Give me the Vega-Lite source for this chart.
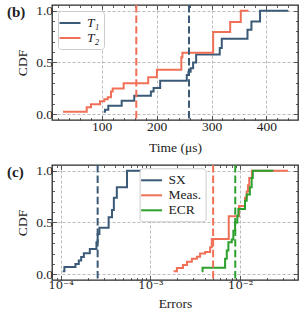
{
  "$schema": "https://vega.github.io/schema/vega-lite/v6.json",
  "padding": {"left": 6, "top": 3, "right": 5, "bottom": 3},
  "spacing": 8,
  "resolve": {"scale": {"color": "independent"}, "legend": {"color": "independent"}},
  "datasets": {
    "timing": [
      {"series": "T₁", "time": 103.6, "cdf": 0.025},
      {"series": "T₁", "time": 106, "cdf": 0.045},
      {"series": "T₁", "time": 112, "cdf": 0.083},
      {"series": "T₁", "time": 136.4, "cdf": 0.13},
      {"series": "T₁", "time": 159.3, "cdf": 0.18},
      {"series": "T₁", "time": 189.6, "cdf": 0.22},
      {"series": "T₁", "time": 194.5, "cdf": 0.255},
      {"series": "T₁", "time": 206.5, "cdf": 0.325},
      {"series": "T₁", "time": 255, "cdf": 0.38},
      {"series": "T₁", "time": 258, "cdf": 0.41},
      {"series": "T₁", "time": 262, "cdf": 0.445},
      {"series": "T₁", "time": 266.5, "cdf": 0.5},
      {"series": "T₁", "time": 272, "cdf": 0.577},
      {"series": "T₁", "time": 315, "cdf": 0.64},
      {"series": "T₁", "time": 318.7, "cdf": 0.73},
      {"series": "T₁", "time": 365.5, "cdf": 0.816},
      {"series": "T₁", "time": 372.7, "cdf": 0.896},
      {"series": "T₁", "time": 388.4, "cdf": 1.0},
      {"series": "T₁", "time": 440, "cdf": 1.0},
      {"series": "T₂", "time": 29.6, "cdf": 0.025},
      {"series": "T₂", "time": 72.7, "cdf": 0.068},
      {"series": "T₂", "time": 80.5, "cdf": 0.097},
      {"series": "T₂", "time": 96.9, "cdf": 0.126},
      {"series": "T₂", "time": 104.7, "cdf": 0.145},
      {"series": "T₂", "time": 111, "cdf": 0.165},
      {"series": "T₂", "time": 117, "cdf": 0.22},
      {"series": "T₂", "time": 120, "cdf": 0.25},
      {"series": "T₂", "time": 140, "cdf": 0.3},
      {"series": "T₂", "time": 184.7, "cdf": 0.358},
      {"series": "T₂", "time": 200.5, "cdf": 0.43},
      {"series": "T₂", "time": 245, "cdf": 0.55},
      {"series": "T₂", "time": 247, "cdf": 0.595},
      {"series": "T₂", "time": 303, "cdf": 0.795},
      {"series": "T₂", "time": 334, "cdf": 0.89},
      {"series": "T₂", "time": 353.3, "cdf": 1.0},
      {"series": "T₂", "time": 367.3, "cdf": 1.0}
    ],
    "timingLines": [
      {"series": "T₂", "time": 163},
      {"series": "T₁", "time": 259}
    ],
    "errors": [
      {"series": "SX", "error": 0.0001055, "cdf": 0.03},
      {"series": "SX", "error": 0.00011, "cdf": 0.07},
      {"series": "SX", "error": 0.000146, "cdf": 0.1},
      {"series": "SX", "error": 0.000159, "cdf": 0.134},
      {"series": "SX", "error": 0.000169, "cdf": 0.166},
      {"series": "SX", "error": 0.000181, "cdf": 0.204},
      {"series": "SX", "error": 0.000211, "cdf": 0.245},
      {"series": "SX", "error": 0.00025, "cdf": 0.31},
      {"series": "SX", "error": 0.000258, "cdf": 0.39},
      {"series": "SX", "error": 0.00027, "cdf": 0.45},
      {"series": "SX", "error": 0.000342, "cdf": 0.55},
      {"series": "SX", "error": 0.000373, "cdf": 0.62},
      {"series": "SX", "error": 0.000391, "cdf": 0.74},
      {"series": "SX", "error": 0.000422, "cdf": 0.84},
      {"series": "SX", "error": 0.000548, "cdf": 1.0},
      {"series": "SX", "error": 0.000875, "cdf": 1.0},
      {"series": "Meas.", "error": 0.00181, "cdf": 0.03},
      {"series": "Meas.", "error": 0.00197, "cdf": 0.06},
      {"series": "Meas.", "error": 0.0023, "cdf": 0.09},
      {"series": "Meas.", "error": 0.00255, "cdf": 0.12},
      {"series": "Meas.", "error": 0.00289, "cdf": 0.15},
      {"series": "Meas.", "error": 0.00329, "cdf": 0.17},
      {"series": "Meas.", "error": 0.00357, "cdf": 0.2},
      {"series": "Meas.", "error": 0.00406, "cdf": 0.215},
      {"series": "Meas.", "error": 0.00462, "cdf": 0.26},
      {"series": "Meas.", "error": 0.00482, "cdf": 0.34},
      {"series": "Meas.", "error": 0.00745, "cdf": 0.56},
      {"series": "Meas.", "error": 0.0097, "cdf": 0.66},
      {"series": "Meas.", "error": 0.0113, "cdf": 0.74},
      {"series": "Meas.", "error": 0.0118, "cdf": 0.8},
      {"series": "Meas.", "error": 0.0122, "cdf": 0.86},
      {"series": "Meas.", "error": 0.0126, "cdf": 0.93},
      {"series": "Meas.", "error": 0.0135, "cdf": 1.0},
      {"series": "Meas.", "error": 0.034, "cdf": 1.0},
      {"series": "ECR", "error": 0.00373, "cdf": 0.03},
      {"series": "ECR", "error": 0.0038, "cdf": 0.064},
      {"series": "ECR", "error": 0.00678, "cdf": 0.15},
      {"series": "ECR", "error": 0.00708, "cdf": 0.23},
      {"series": "ECR", "error": 0.00738, "cdf": 0.31},
      {"series": "ECR", "error": 0.00805, "cdf": 0.335},
      {"series": "ECR", "error": 0.00838, "cdf": 0.42},
      {"series": "ECR", "error": 0.00876, "cdf": 0.5},
      {"series": "ECR", "error": 0.00929, "cdf": 0.566},
      {"series": "ECR", "error": 0.00953, "cdf": 0.63},
      {"series": "ECR", "error": 0.0113, "cdf": 0.71},
      {"series": "ECR", "error": 0.0118, "cdf": 0.77},
      {"series": "ECR", "error": 0.0128, "cdf": 0.84},
      {"series": "ECR", "error": 0.0134, "cdf": 0.93},
      {"series": "ECR", "error": 0.0138, "cdf": 1.0},
      {"series": "ECR", "error": 0.0233, "cdf": 1.0}
    ],
    "errorLines": [
      {"series": "SX", "error": 0.000258},
      {"series": "Meas.", "error": 0.00499},
      {"series": "ECR", "error": 0.0088}
    ]
  },
  "vconcat": [
    {
      "width": 246,
      "height": 115,
      "title": {"text": "(b)", "orient": "top", "anchor": "start", "frame": "group", "dx": -45, "dy": 16, "offset": 0, "fontSize": 15, "fontWeight": "bold", "font": "Liberation Serif", "color": "#222"},
      "resolve": {"axis": {"x": "independent", "y": "independent"}},
      "layer": [
        {
          "data": {"name": "timing"},
          "mark": {"type": "line", "interpolate": "step-after", "strokeWidth": 2},
          "encoding": {
            "x": {"field": "time", "type": "quantitative", "scale": {"domain": [9.5, 457.5], "zero": false, "nice": false},
              "axis": {"orient": "bottom", "title": "Time (μs)", "values": [20,40,60,80,100,120,140,160,180,200,220,240,260,280,300,320,340,360,380,400,420,440],
                "labelExpr": "datum.value % 100 === 0 ? datum.label : ''",
                "tickSize": {"condition": {"test": "datum.value % 100 === 0", "value": -4.5}, "value": -2.5},
                "gridOpacity": {"condition": {"test": "datum.value % 100 === 0", "value": 1}, "value": 0},
                "labelPadding": 4, "titlePadding": 5}},
            "y": {"field": "cdf", "type": "quantitative", "scale": {"domain": [-0.055, 1.055], "zero": false, "nice": false},
              "axis": {"orient": "left", "title": "CDF", "values": [0,0.1,0.2,0.3,0.4,0.5,0.6,0.7,0.8,0.9,1],
                "labelExpr": "abs(datum.value*2 - round(datum.value*2)) < 0.000001 ? format(datum.value, '.1f') : ''",
                "tickSize": {"condition": {"test": "abs(datum.value*2 - round(datum.value*2)) < 0.000001", "value": -4.5}, "value": -2.5},
                "gridOpacity": {"condition": {"test": "abs(datum.value*2 - round(datum.value*2)) < 0.000001", "value": 1}, "value": 0},
                "labelPadding": 4, "titlePadding": 6}},
            "color": {"field": "series", "type": "nominal", "scale": {"domain": ["T₁", "T₂"], "range": ["#3b5a78", "#f07057"]},
              "legend": {"orient": "top-left", "offset": 6, "title": null, "symbolType": "M-1.5,0H1.5", "symbolSize": 196, "symbolStrokeWidth": 2,
                "labelFont": "Liberation Serif", "labelFontSize": 13.5, "labelFontStyle": "italic", "labelColor": "#222", "labelOffset": 9,
                "fillColor": "white", "strokeColor": "#cccccc", "cornerRadius": 3, "padding": 4, "rowPadding": 0}}
          }
        },
        {
          "data": {"name": "timingLines"},
          "mark": {"type": "rule", "strokeWidth": 2, "strokeDash": [7.4, 3.2]},
          "encoding": {
            "x": {"field": "time", "type": "quantitative", "scale": {"domain": [9.5, 457.5], "zero": false, "nice": false}, "axis": null},
            "color": {"field": "series", "type": "nominal", "scale": {"domain": ["T₁", "T₂"], "range": ["#3b5a78", "#f07057"]}, "legend": null}
          }
        },
        {
          "data": {"name": "timing"},
          "mark": {"type": "line", "strokeOpacity": 0},
          "encoding": {
            "x": {"field": "time", "type": "quantitative", "scale": {"domain": [9.5, 457.5], "zero": false, "nice": false},
              "axis": {"orient": "top", "title": null, "labels": false, "grid": false, "values": [20,40,60,80,100,120,140,160,180,200,220,240,260,280,300,320,340,360,380,400,420,440],
                "tickSize": {"condition": {"test": "datum.value % 100 === 0", "value": -4.5}, "value": -2.5}}},
            "y": {"field": "cdf", "type": "quantitative", "scale": {"domain": [-0.055, 1.055], "zero": false, "nice": false},
              "axis": {"orient": "right", "title": null, "labels": false, "grid": false, "values": [0,0.1,0.2,0.3,0.4,0.5,0.6,0.7,0.8,0.9,1],
                "tickSize": {"condition": {"test": "abs(datum.value*2 - round(datum.value*2)) < 0.000001", "value": -4.5}, "value": -2.5}}},
            "detail": {"field": "series"}
          }
        }
      ]
    },
    {
      "width": 246,
      "height": 115,
      "title": {"text": "(c)", "orient": "top", "anchor": "start", "frame": "group", "dx": -45, "dy": 16, "offset": 0, "fontSize": 15, "fontWeight": "bold", "font": "Liberation Serif", "color": "#222"},
      "resolve": {"axis": {"x": "independent", "y": "independent"}},
      "layer": [
        {
          "data": {"name": "errors"},
          "mark": {"type": "line", "interpolate": "step-after", "strokeWidth": 2},
          "encoding": {
            "x": {"field": "error", "type": "quantitative", "scale": {"type": "log", "domain": [0.00008, 0.044], "nice": false},
              "axis": {"orient": "bottom", "title": "Errors", "values": [0.00009,0.0001,0.0002,0.0003,0.0004,0.0005,0.0006,0.0007,0.0008,0.0009,0.001,0.002,0.003,0.004,0.005,0.006,0.007,0.008,0.009,0.01,0.02,0.03,0.04],
                "labelExpr": "abs(log(datum.value)/LN10 - round(log(datum.value)/LN10)) < 0.000001 ? (datum.value < 0.0005 ? '10⁻⁴' : datum.value < 0.005 ? '10⁻³' : '10⁻²') : ''",
                "labelFont": "DejaVu Serif", "labelFontSize": 11.5,
                "tickSize": {"condition": {"test": "abs(log(datum.value)/LN10 - round(log(datum.value)/LN10)) < 0.000001", "value": -4.5}, "value": -2.5},
                "gridOpacity": {"condition": {"test": "abs(log(datum.value)/LN10 - round(log(datum.value)/LN10)) < 0.000001", "value": 1}, "value": 0},
                "labelPadding": 4, "titlePadding": 3}},
            "y": {"field": "cdf", "type": "quantitative", "scale": {"domain": [-0.055, 1.055], "zero": false, "nice": false},
              "axis": {"orient": "left", "title": "CDF", "values": [0,0.1,0.2,0.3,0.4,0.5,0.6,0.7,0.8,0.9,1],
                "labelExpr": "abs(datum.value*2 - round(datum.value*2)) < 0.000001 ? format(datum.value, '.1f') : ''",
                "tickSize": {"condition": {"test": "abs(datum.value*2 - round(datum.value*2)) < 0.000001", "value": -4.5}, "value": -2.5},
                "gridOpacity": {"condition": {"test": "abs(datum.value*2 - round(datum.value*2)) < 0.000001", "value": 1}, "value": 0},
                "labelPadding": 4, "titlePadding": 6}},
            "color": {"field": "series", "type": "nominal", "scale": {"domain": ["SX", "Meas.", "ECR"], "range": ["#3b5a78", "#f07057", "#2ca02c"]},
              "legend": {"orient": "none", "legendX": 87.6, "legendY": 3.3, "title": null, "symbolType": "M-1.5,0H1.5", "symbolSize": 196, "symbolStrokeWidth": 2,
                "labelFont": "Liberation Serif", "labelFontSize": 13.5, "labelColor": "#222", "labelOffset": 9,
                "fillColor": "white", "strokeColor": "#cccccc", "cornerRadius": 3, "padding": 4, "rowPadding": 0}}
          }
        },
        {
          "data": {"name": "errorLines"},
          "mark": {"type": "rule", "strokeWidth": 2, "strokeDash": [7.4, 3.2]},
          "encoding": {
            "x": {"field": "error", "type": "quantitative", "scale": {"type": "log", "domain": [0.00008, 0.044], "nice": false}, "axis": null},
            "color": {"field": "series", "type": "nominal", "scale": {"domain": ["SX", "Meas.", "ECR"], "range": ["#3b5a78", "#f07057", "#2ca02c"]}, "legend": null}
          }
        },
        {
          "data": {"name": "errors"},
          "mark": {"type": "line", "strokeOpacity": 0},
          "encoding": {
            "x": {"field": "error", "type": "quantitative", "scale": {"type": "log", "domain": [0.00008, 0.044], "nice": false},
              "axis": {"orient": "top", "title": null, "labels": false, "grid": false, "values": [0.00009,0.0001,0.0002,0.0003,0.0004,0.0005,0.0006,0.0007,0.0008,0.0009,0.001,0.002,0.003,0.004,0.005,0.006,0.007,0.008,0.009,0.01,0.02,0.03,0.04],
                "tickSize": {"condition": {"test": "abs(log(datum.value)/LN10 - round(log(datum.value)/LN10)) < 0.000001", "value": -4.5}, "value": -2.5}}},
            "y": {"field": "cdf", "type": "quantitative", "scale": {"domain": [-0.055, 1.055], "zero": false, "nice": false},
              "axis": {"orient": "right", "title": null, "labels": false, "grid": false, "values": [0,0.1,0.2,0.3,0.4,0.5,0.6,0.7,0.8,0.9,1],
                "tickSize": {"condition": {"test": "abs(datum.value*2 - round(datum.value*2)) < 0.000001", "value": -4.5}, "value": -2.5}}},
            "detail": {"field": "series"}
          }
        }
      ]
    }
  ],
  "config": {
    "view": {"stroke": "#2a2a2a", "strokeWidth": 1.3},
    "axis": {
      "domain": false,
      "labelFont": "Liberation Serif", "labelFontSize": 13.5, "labelColor": "#222",
      "titleFont": "Liberation Serif", "titleFontSize": 13.5, "titleFontWeight": "normal", "titleColor": "#222",
      "tickColor": "#333", "tickWidth": 0.8,
      "gridColor": "#aaaaaa", "gridDash": [3, 2], "gridWidth": 0.8,
      "labelFlush": false, "labelOverlap": false, "labelBound": false
    }
  }
}
